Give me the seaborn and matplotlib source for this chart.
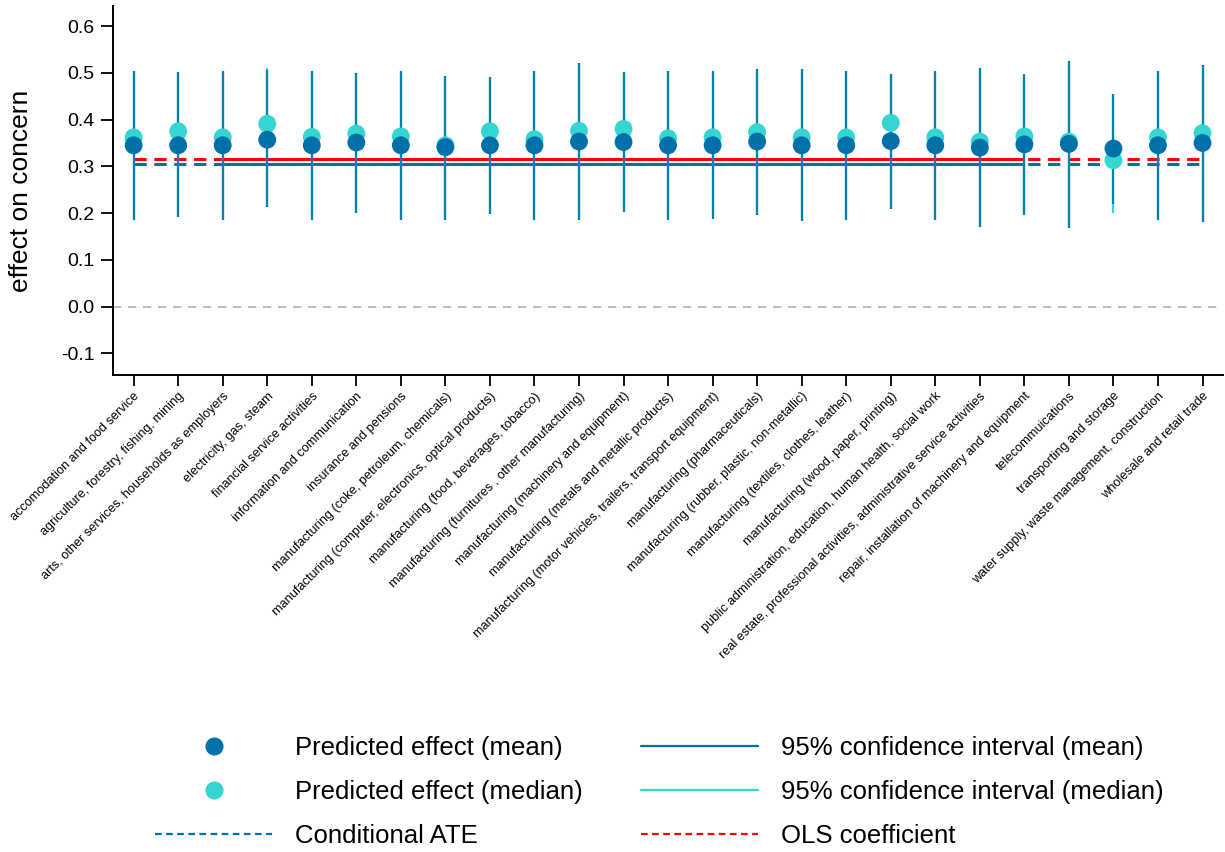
import matplotlib
matplotlib.use("Agg")
import matplotlib.pyplot as plt
from matplotlib.lines import Line2D
import numpy as np
import pandas as pd
import seaborn as sns

categories = [
    "accomodation and food service",
    "agriculture, forestry, fishing, mining",
    "arts, other services, households as employers",
    "electricity, gas, steam",
    "financial service activities",
    "information and communication",
    "insurance and pensions",
    "manufacturing (coke, petroleum, chemicals)",
    "manufacturing (computer, electronics, optical products)",
    "manufacturing (food, beverages, tobacco)",
    "manufacturing (furnitures , other manufacturing)",
    "manufacturing (machinery and equipment)",
    "manufacturing (metals and metallic products)",
    "manufacturing (motor vehicles, trailers, transport equipment)",
    "manufacturing (pharmaceuticals)",
    "manufacturing (rubber, plastic, non-metallic)",
    "manufacturing (textiles, clothes, leather)",
    "manufacturing (wood, paper, printing)",
    "public administration, education, human health, social work",
    "real estate, professional activities, administrative service activities",
    "repair, installation of machinery and equipment",
    "telecommuications",
    "transporting and storage",
    "water supply, waste management, construction",
    "wholesale and retail trade",
]

mean_effect = [0.345, 0.345, 0.345, 0.357, 0.345, 0.351, 0.345, 0.341, 0.345, 0.345,
               0.353, 0.352, 0.345, 0.345, 0.353, 0.345, 0.345, 0.354, 0.345, 0.340,
               0.347, 0.348, 0.338, 0.345, 0.350]
median_effect = [0.362, 0.375, 0.362, 0.391, 0.363, 0.370, 0.364, 0.345, 0.375, 0.358,
                 0.376, 0.380, 0.360, 0.362, 0.373, 0.362, 0.362, 0.393, 0.362, 0.353,
                 0.364, 0.353, 0.313, 0.362, 0.371]
ci_mean_low = [0.186, 0.191, 0.186, 0.214, 0.186, 0.200, 0.186, 0.186, 0.199, 0.185,
               0.185, 0.203, 0.185, 0.188, 0.196, 0.184, 0.185, 0.209, 0.185, 0.170,
               0.195, 0.168, 0.219, 0.185, 0.182]
ci_mean_high = [0.504, 0.501, 0.504, 0.505, 0.504, 0.500, 0.504, 0.494, 0.491, 0.504,
                0.520, 0.501, 0.504, 0.504, 0.508, 0.508, 0.504, 0.497, 0.504, 0.511,
                0.498, 0.526, 0.455, 0.504, 0.517]
ci_median_low = [0.186, 0.191, 0.186, 0.214, 0.186, 0.200, 0.186, 0.186, 0.199, 0.185,
                 0.185, 0.203, 0.185, 0.188, 0.196, 0.184, 0.185, 0.209, 0.185, 0.170,
                 0.195, 0.168, 0.200, 0.185, 0.182]
ci_median_high = [0.504, 0.501, 0.504, 0.510, 0.504, 0.500, 0.504, 0.494, 0.491, 0.504,
                  0.520, 0.501, 0.504, 0.504, 0.508, 0.508, 0.504, 0.497, 0.504, 0.511,
                  0.498, 0.526, 0.455, 0.504, 0.517]
cate = 0.305
ols = 0.316

c_mean = "#0070a8"
c_median = "#33d6d0"
c_red = "#ff0000"

df = pd.DataFrame({
    "x": np.arange(len(categories)),
    "category": categories,
    "mean": mean_effect,
    "median": median_effect,
})

sns.set_style("ticks")
plt.rcParams["font.family"] = ["Liberation Sans", "DejaVu Sans"]
for k in ["text.color", "axes.labelcolor", "xtick.color", "ytick.color", "axes.edgecolor"]:
    plt.rcParams[k] = "black"

fig = plt.figure(figsize=(12.25, 8.52), dpi=100)
ax = fig.add_axes([0.092, 0.56, 0.906, 0.433])

n = len(categories)
ax.axhline(0, color="#b0b0b0", lw=1.2, ls=(0, (5, 4)), zorder=1)

# CATE / OLS reference lines (dashed at the ends, solid in the middle)
ax.hlines(cate, 0, n - 1, color=c_mean, lw=2.2, ls=(0, (4, 2.5)), zorder=2)
ax.hlines(cate, 2, 20, color=c_mean, lw=2.2, zorder=2)
ax.hlines(ols, 0, n - 1, color=c_red, lw=2.2, ls=(0, (4, 2.5)), zorder=2)
ax.hlines(ols, 2, 20, color=c_red, lw=2.2, zorder=2)

ax.vlines(df["x"], ci_median_low, ci_median_high, color=c_median, lw=1.6, zorder=3)
ax.vlines(df["x"], ci_mean_low, ci_mean_high, color=c_mean, lw=1.6, alpha=0.85, zorder=3)

sns.scatterplot(data=df, x="x", y="median", ax=ax, color=c_median, s=165,
                edgecolor="none", zorder=4)
sns.scatterplot(data=df, x="x", y="mean", ax=ax, color=c_mean, s=165,
                edgecolor="none", zorder=5)

ax.set_xlim(-0.47, n - 1 + 0.45)
ax.set_ylim(-0.146, 0.643)
ax.set_yticks([-0.1, 0.0, 0.1, 0.2, 0.3, 0.4, 0.5, 0.6])
ax.set_yticklabels(["-0.1", "0.0", "0.1", "0.2", "0.3", "0.4", "0.5", "0.6"])
ax.set_xticks(df["x"])
ax.set_xticklabels(categories, rotation=45, ha="right", rotation_mode="anchor",
                   fontsize=9.2)
ax.set_xlabel("")
ax.set_ylabel("effect on concern", fontsize=19, labelpad=20)
ax.tick_params(axis="y", labelsize=14, length=9, width=1.3, direction="out", pad=4)
ax.tick_params(axis="x", length=8, width=1.3, direction="out", pad=3)
for s in ["top", "right"]:
    ax.spines[s].set_visible(False)
for s in ["left", "bottom"]:
    ax.spines[s].set_linewidth(1.4)

handles = [
    Line2D([], [], marker="o", ls="none", color=c_mean, markersize=12),
    Line2D([], [], marker="o", ls="none", color=c_median, markersize=12),
    Line2D([], [], color=c_mean, lw=1.6, ls=(0, (3, 2))),
    Line2D([], [], color=c_mean, lw=1.6),
    Line2D([], [], color=c_median, lw=1.6),
    Line2D([], [], color=c_red, lw=1.6, ls=(0, (3, 2))),
]
labels = ["Predicted effect (mean)", "Predicted effect (median)", "Conditional ATE",
          "95% confidence interval (mean)", "95% confidence interval (median)",
          "OLS coefficient"]
fig.legend(handles, labels, ncol=2, frameon=False, fontsize=18.5,
           loc="lower left", bbox_to_anchor=(0.114, -0.013), borderaxespad=0.2,
           handlelength=4.55, handletextpad=0.9, columnspacing=2.25,
           labelspacing=0.78)

fig.savefig("out.png", dpi=100)
